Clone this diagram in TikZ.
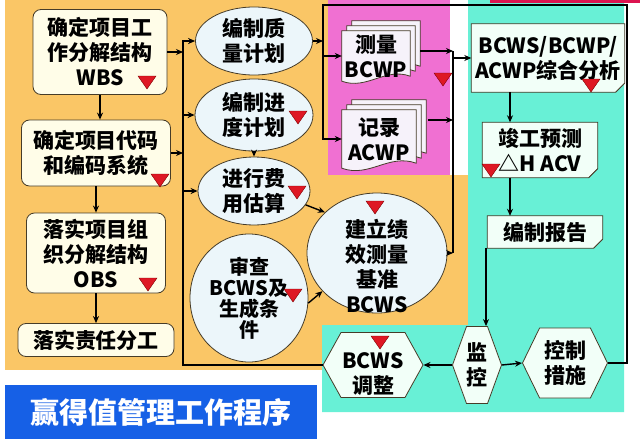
\documentclass[tikz,border=0pt]{standalone}
\usepackage{fontspec}
\setmainfont{Noto Sans CJK SC}
\usetikzlibrary{shapes.geometric,shapes.symbols,arrows.meta}
\pgfdeclarelayer{back}\pgfdeclarelayer{mid}\pgfsetlayers{back,mid,main}
\definecolor{orangebg}{RGB}{250,198,102}
\definecolor{pinkbg}{RGB}{240,112,210}
\definecolor{cyanbg}{RGB}{104,240,214}
\definecolor{crimson}{RGB}{220,20,80}
\definecolor{cream}{RGB}{255,253,232}
\definecolor{pale}{RGB}{236,246,250}
\definecolor{sheet}{RGB}{246,242,250}
\definecolor{mint}{RGB}{242,255,248}
\definecolor{titleblue}{RGB}{22,96,230}
\definecolor{flagred}{RGB}{222,24,36}
\definecolor{edge}{RGB}{70,60,40}
\tikzset{
  txt/.style={font=\bfseries\fontsize{21}{25}\selectfont, align=center, inner sep=0pt},
  lbox/.style={txt, draw=edge, fill=cream, rounded corners=8pt, line width=0.8pt},
  oval/.style={txt, ellipse, draw=edge, fill=pale, line width=0.8pt},
  hexa/.style={txt, signal, signal to=east and west, draw=edge, fill=mint, line width=0.8pt},
  flow/.style={line width=1.4pt},
  arr/.style={flow, -{Stealth[length=7pt,width=6pt]}},
  flag/.style={fill=flagred, draw=red!50!black, line width=0.4pt},
}
\newcommand\docstack[1]{\foreach \d in {10,5,0}
  \filldraw[fill=sheet, draw=edge, line width=0.8pt] ([shift={(\d,-\d)}]#1.north west) -- ([shift={(\d,-\d)}]#1.north east)
    -- ([shift={(\d,-\d-5)}]#1.south east) to[out=160,in=-20] ([shift={(\d,-\d)}]#1.south west) -- cycle;}
\newcommand\notebox[1]{\filldraw[fill=mint, draw=edge, line width=0.8pt] (#1.north west) -- (#1.north east)
    -- ([yshift=9pt]#1.south east) -- ([xshift=-9pt]#1.south east) -- (#1.south west) -- cycle;
  \filldraw[fill=mint!70!gray, draw=edge, line width=0.6pt] ([yshift=9pt]#1.south east) -- ([xshift=-6pt,yshift=3pt]#1.south east) -- ([xshift=-9pt]#1.south east);}
\begin{document}
\begin{tikzpicture}[x=1pt, y=-1pt]
\useasboundingbox (0,0) rectangle (640,439);
\begin{pgfonlayer}{back}
\fill[white] (0,0) rectangle (640,439);
\fill[orangebg] (5,0) rectangle (470,370);
\fill[pinkbg] (328,0) rectangle (450,175);
\fill[white] (450,0) rectangle (468,175);
\fill[cyanbg] (468,0) rectangle (624,412) (322,325) rectangle (624,412);
\fill[crimson] (490,0) rectangle (640,3);
\end{pgfonlayer}

\node[lbox, minimum width=134pt, minimum height=85pt] (wbs) at (100,52) {确定项目工\\作分解结构\\WBS};
\node[lbox, minimum width=149pt, minimum height=66pt] (code) at (96,153) {确定项目代码\\和编码系统};
\node[lbox, minimum width=139pt, minimum height=80pt] (obs) at (96,253) {落实项目组\\织分解结构\\OBS};
\node[lbox, minimum width=156pt, minimum height=33pt] (duty) at (96,340) {落实责任分工};

\node[oval, minimum width=117pt, minimum height=68pt] (qual) at (254,41) {编制质\\量计划};
\node[oval, minimum width=118pt, minimum height=72pt] (sched) at (254,115) {编制进\\度计划};
\node[oval, minimum width=112pt, minimum height=68pt] (cost) at (254,191) {进行费\\用估算};
\node[oval, minimum width=118pt, minimum height=128pt, font=\bfseries\fontsize{20}{21}\selectfont] (rev) at (249,298) {审查\\BCWS及\\生成条\\件};
\node[oval, minimum width=140pt, minimum height=120pt] (base) at (377,253) {};
\node[txt] (baseTxt) at (377,266) {建立绩\\效测量\\基准\\BCWS};

\node[txt, minimum width=68pt, minimum height=50pt] (meas) at (376,56) {测量\\BCWP};
\node[txt, minimum width=74pt, minimum height=58pt] (rec) at (379,139) {记录\\ACWP};

\node[txt, minimum width=153pt, minimum height=68pt] (ana) at (548,58) {BCWS/BCWP/\\ACWP综合分析};
\node[txt, minimum width=115pt, minimum height=55pt] (pred) at (540,150) {竣工预测\\△H ACV};
\node[txt, minimum width=115pt, minimum height=32pt] (rep) at (545,232) {编制报告};

\node[hexa, minimum width=100pt, minimum height=65pt, signal pointer angle=122] (adj) at (373,365) {};
\node[txt] (adjTxt) at (373,374) {BCWS\\调整};
\node[hexa, minimum width=40pt, minimum height=77pt, signal pointer angle=140] (mon) at (477,365) {监\\控};
\node[hexa, minimum width=85pt, minimum height=70pt, signal pointer angle=128] (ctrl) at (565,363) {控制\\措施};

\node[fill=titleblue, text=white, minimum width=312pt, minimum height=54pt, inner sep=0pt, font=\bfseries\fontsize{29}{29}\selectfont] (title) at (161,412) {赢得值管理工作程序};

\coordinate (lc) at (183,40);
\coordinate (fbL) at (323,5);
\coordinate (fbR) at (627,5);
\coordinate (rc) at (453,51);
\coordinate (midx) at (510,0);
\coordinate (repx) at (486,0);
\coordinate (recOut) at ([shift={(12,-19)}]rec.east);

\draw[flow] (adj.west) -| (lc);
\foreach \n in {qual,sched,cost} \draw[arr] (\n.west -| lc) -- (\n.west);
\foreach \n in {wbs,code} \draw[arr] (\n.east) -- (\n.east -| lc);
\draw[arr] (wbs.south) -- (wbs.south |- code.north);
\draw[arr, line width=2pt] (code.south) -- (code.south |- obs.north);
\draw[arr] (obs.south) -- (obs.south |- duty.north);
\draw[arr] (sched.south) -- (cost.north);
\draw[arr] (cost.-15) -- (base.142);
\draw[arr] (rev.-5) -- (base.215);

\draw[flow] (rc) -- (base.east -| rc);
\draw[arr] (base.east) -- (base.east -| rc);
\draw[arr] ([shift={(10,-5)}]meas.east) -- (rc);
\draw[arr] (recOut) -- (recOut -| rc);
\draw[arr] (ana.west -| rc) -- (ana.west);

\draw[arr] (ctrl.east) -| (fbR) -- (fbL) |- (rec.west);
\draw[arr] (meas.west -| fbL) -- (meas.west);
\draw[arr] (qual.east) -- (qual.east -| fbL);

\draw[arr] (ana.south -| midx) -- (pred.north -| midx);
\draw[arr] (pred.south -| midx) -- (rep.north -| midx);
\draw[arr] (rep.south -| repx) -- (mon.north -| repx);
\draw[arr] (mon.west) -- (adj.east);
\draw[arr] (mon.east) -- (ctrl.west);

\begin{pgfonlayer}{mid}
\docstack{meas}
\docstack{rec}
\notebox{ana}
\notebox{pred}
\notebox{rep}
\end{pgfonlayer}

\foreach \x/\y in {147/82, 160/180, 148/284, 298/117, 297/192, 293/295, 375/207, 443/79, 591/85, 491/170, 380/342}
  \filldraw[flag] ({\x-9},{\y-6}) -- ({\x+9},{\y-6}) -- (\x,{\y+7}) -- cycle;
\end{tikzpicture}
\end{document}
